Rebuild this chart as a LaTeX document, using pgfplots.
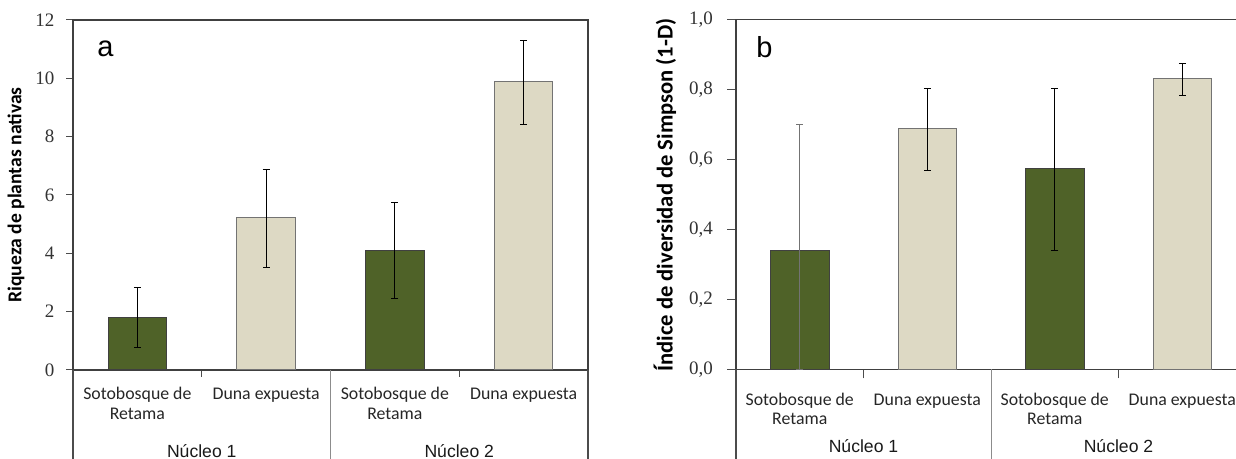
\documentclass[border=0pt]{standalone}
\usepackage{fontspec}
\setmainfont{Carlito}
\newfontfamily\serifnum{Liberation Serif}
\newfontfamily\arial{Liberation Sans}
\usepackage{pgfplots}
\usepackage{pgfplotstable}
\pgfplotsset{compat=1.18}
\definecolor{dgreen}{HTML}{4F6228}
\definecolor{beige}{HTML}{DDD9C4}

\pgfplotstableread{
x y ep em
0 1.80 1.03 1.04
2 4.10 1.63 1.65
}\greenA
\pgfplotstableread{
x y ep em
1 5.22 1.64 1.72
3 9.89 1.41 1.47
}\beigeA
\pgfplotstableread{
x y ep em
0 0.341 0.359 0.341
}\greenBa
\pgfplotstableread{
x y ep em
2 0.573 0.231 0.234
}\greenBb
\pgfplotstableread{
x y ep em
1 0.689 0.114 0.120
3 0.830 0.043 0.047
}\beigeB

\pgfplotsset{
  panel/.style={
    scale only axis, height=175pt,
    xmin=-0.5, xmax=3.5, ymin=0,
    xtick={0.5,2.5}, xticklabels={},
    tick align=outside, xtick pos=bottom, ytick pos=left,
    axis line style={black!75, line width=0.6pt},
    tick style={black!70, line width=0.5pt},
    yticklabel style={font=\serifnum\fontsize{9.5}{11}\selectfont, text=black!80},
    clip=false,
  },
  gbar/.style={ybar, bar width=29.25pt, bar shift=0pt, fill=dgreen, draw=black!75, line width=0.5pt,
    error bars/.cd, y dir=both, y explicit,
    error bar style={black, line width=0.5pt},
    error mark options={rotate=90, mark size=1.75pt, black, line width=0.5pt}},
  gbarlight/.style={ybar, bar width=29.25pt, bar shift=0pt, fill=dgreen, draw=black!75, line width=0.5pt,
    error bars/.cd, y dir=both, y explicit,
    error bar style={black!55, line width=0.5pt},
    error mark options={rotate=90, mark size=1.75pt, black!55, line width=0.5pt}},
  bbar/.style={ybar, bar width=29.25pt, bar shift=0pt, fill=beige, draw=black!55, line width=0.5pt,
    error bars/.cd, y dir=both, y explicit,
    error bar style={black, line width=0.5pt},
    error mark options={rotate=90, mark size=1.75pt, black, line width=0.5pt}},
}
\tikzset{
  catfont/.style={font=\fontsize{8.9}{10}\selectfont, text=black!85, anchor=base, inner sep=0pt},
  nucfont/.style={font=\arial\fontsize{8.8}{10}\selectfont, text=black!90, anchor=base, inner sep=0pt},
}

\begin{document}
\begin{tikzpicture}
\useasboundingbox (0,0) rectangle (618pt,229.5pt);
\clip (0,0) rectangle (618pt,229.5pt);

% ---------------- panel a ----------------
\begin{axis}[panel, at={(36.5pt,44.5pt)}, anchor=south west, width=257.5pt,
  ymax=12, ytick={0,2,4,6,8,10,12}, yticklabels={0,2,4,6,8,10,12},
  major tick length=3.3pt, yticklabel style={xshift=-2.5pt}]
\addplot[gbar] table[x=x, y=y, y error plus=ep, y error minus=em] {\greenA};
\addplot[bbar] table[x=x, y=y, y error plus=ep, y error minus=em] {\beigeA};
\draw[black!70, line width=0.6pt] (axis cs:-0.5,0) -- ++(0pt,-60pt);
\draw[black!45, line width=0.5pt] (axis cs:1.5,0) -- ++(0pt,-60pt);
\draw[black!70, line width=0.6pt] (axis cs:3.5,0) -- ++(0pt,-60pt);
\node[catfont] at ([yshift=-15pt]axis cs:0,0) {Sotobosque de};
\node[catfont] at ([yshift=-25pt]axis cs:0,0) {Retama};
\node[catfont] at ([yshift=-15pt]axis cs:1,0) {Duna expuesta};
\node[catfont] at ([yshift=-15pt]axis cs:2,0) {Sotobosque de};
\node[catfont] at ([yshift=-25pt]axis cs:2,0) {Retama};
\node[catfont] at ([yshift=-15pt]axis cs:3,0) {Duna expuesta};
\node[nucfont] at ([yshift=-44pt]axis cs:0.5,0) {Núcleo 1};
\node[nucfont] at ([yshift=-44pt]axis cs:2.5,0) {Núcleo 2};
\end{axis}

% ---------------- panel b ----------------
\begin{axis}[panel, at={(368pt,44.75pt)}, anchor=south west, width=255pt,
  ymax=1, ytick={0,0.2,0.4,0.6,0.8,1}, yticklabels={{0,0},{0,2},{0,4},{0,6},{0,8},{1,0}},
  major tick length=4.5pt, yticklabel style={xshift=-3.5pt}]
\addplot[gbarlight] table[x=x, y=y, y error plus=ep, y error minus=em] {\greenBa};
\addplot[gbar] table[x=x, y=y, y error plus=ep, y error minus=em] {\greenBb};
\addplot[bbar] table[x=x, y=y, y error plus=ep, y error minus=em] {\beigeB};
\draw[black!70, line width=0.6pt] (axis cs:-0.5,0) -- ++(0pt,-60pt);
\draw[black!45, line width=0.5pt] (axis cs:1.5,0) -- ++(0pt,-60pt);
\node[catfont] at ([yshift=-18pt]axis cs:0,0) {Sotobosque de};
\node[catfont] at ([yshift=-27.5pt]axis cs:0,0) {Retama};
\node[catfont] at ([yshift=-18pt]axis cs:1,0) {Duna expuesta};
\node[catfont] at ([yshift=-18pt]axis cs:2,0) {Sotobosque de};
\node[catfont] at ([yshift=-27.5pt]axis cs:2,0) {Retama};
\node[catfont] at ([yshift=-18pt]axis cs:3,0) {Duna expuesta};
\node[nucfont] at ([yshift=-41.5pt]axis cs:0.5,0) {Núcleo 1};
\node[nucfont] at ([yshift=-41.5pt]axis cs:2.5,0) {Núcleo 2};
\end{axis}

% labels
\node[rotate=90, font=\bfseries\fontsize{9.8}{11}\selectfont] at (8pt,132pt) {Riqueza de plantas nativas};
\node[rotate=90, font=\bfseries\fontsize{11.3}{13}\selectfont] at (332.5pt,132pt) {Índice de diversidad de Simpson (1-D)};
\node[anchor=base west, inner sep=0pt, font=\arial\fontsize{14.5}{16}\selectfont] at (48.5pt,201pt) {a};
\node[anchor=base west, inner sep=0pt, font=\arial\fontsize{14.5}{16}\selectfont] at (378pt,200.5pt) {b};
\end{tikzpicture}
\end{document}
